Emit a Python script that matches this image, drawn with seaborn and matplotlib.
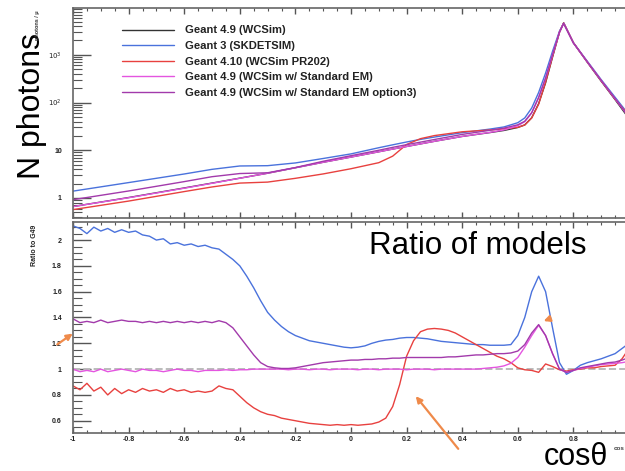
import numpy as np
import pandas as pd
import seaborn as sns
import matplotlib.pyplot as plt
from matplotlib.patches import FancyArrowPatch
from matplotlib.ticker import FixedLocator, FixedFormatter, MultipleLocator, NullFormatter

# ---------------- data ----------------
top_x = [-1.0, -0.8, -0.6, -0.5, -0.4, -0.3, -0.2, -0.1, 0.0, 0.1, 0.15, 0.2, 0.25, 0.3,
         0.4, 0.5, 0.55, 0.6, 0.625, 0.65, 0.675, 0.7, 0.725, 0.75, 0.765, 0.8, 0.85,
         0.9, 0.95, 1.0]
g49 = [0.66, 1.02, 1.62, 2.05, 2.6, 3.3, 4.3, 5.6, 7.2, 9.3, 10.6, 12.0, 13.6, 15.4,
       19.5, 23.5, 26, 30, 34, 48, 95, 260, 900, 3000, 4700, 1800, 700, 280, 115, 46]
g3 = [1.39, 2.10, 3.18, 3.98, 4.68, 4.75, 5.42, 6.72, 8.39, 11.3, 13.0, 14.9, 16.9, 18.9,
      23.4, 27.8, 30.8, 37.8, 47.6, 76.8, 163, 416, 1188, 3150, 4560, 1782, 735, 302, 129, 55]
g410 = [0.57, 0.86, 1.36, 1.70, 2.05, 2.15, 2.58, 3.19, 4.10, 5.49, 7.53, 13.2, 17.5, 20.3,
        24.4, 26.6, 28.1, 30.3, 33.8, 47.5, 92.6, 270, 918, 2985, 4630, 1791, 707, 286, 118, 53]
g49_std = [0.66, 1.01, 1.60, 2.03, 2.59, 3.30, 4.30, 5.60, 7.20, 9.30, 10.6, 12.0, 13.6, 15.4,
           19.5, 23.7, 26.7, 32.7, 39.8, 60.5, 127, 328, 1008, 3000, 4580, 1782, 711, 290, 120, 49]
g49_opt3 = [0.92, 1.40, 2.20, 2.79, 3.25, 3.37, 4.34, 5.88, 7.70, 10.0, 11.5, 13.1, 14.8, 16.8,
            21.5, 26.2, 29.1, 34.2, 40.5, 61.4, 128, 328, 1008, 3000, 4580, 1782, 714, 291, 121, 50]

ratio_x = [-1.0, -0.975, -0.95, -0.925, -0.9, -0.875, -0.85, -0.825, -0.8, -0.775,
           -0.75, -0.725, -0.7, -0.675, -0.65, -0.625, -0.6, -0.575, -0.55, -0.525,
           -0.5, -0.475, -0.45, -0.425, -0.4, -0.375, -0.35, -0.325, -0.3, -0.275,
           -0.25, -0.225, -0.2, -0.175, -0.15, -0.125, -0.1, -0.075, -0.05, -0.025,
           0.0, 0.025, 0.05, 0.075, 0.1, 0.125, 0.15, 0.175, 0.2, 0.225,
           0.25, 0.275, 0.3, 0.325, 0.35, 0.375, 0.4, 0.425, 0.45, 0.475,
           0.5, 0.525, 0.55, 0.575, 0.6, 0.625, 0.65, 0.675, 0.7, 0.725,
           0.75, 0.775, 0.8, 0.825, 0.85, 0.875, 0.9, 0.925, 0.95, 0.975, 1.0]
ratio_g3 = [2.11, 2.09, 2.05, 2.10, 2.07, 2.09, 2.06, 2.08, 2.06, 2.07,
            2.04, 2.03, 2.00, 2.01, 1.97, 1.98, 1.96, 1.97, 1.95, 1.96,
            1.94, 1.93, 1.89, 1.85, 1.80, 1.72, 1.63, 1.53, 1.44, 1.38,
            1.33, 1.29, 1.26, 1.24, 1.22, 1.21, 1.20, 1.19, 1.18, 1.17,
            1.165, 1.17, 1.18, 1.20, 1.215, 1.225, 1.23, 1.24, 1.245, 1.245,
            1.24, 1.235, 1.225, 1.215, 1.21, 1.205, 1.20, 1.195, 1.19, 1.19,
            1.185, 1.185, 1.185, 1.19, 1.26, 1.40, 1.60, 1.72, 1.60, 1.32,
            1.05, 0.96, 0.99, 1.03, 1.05, 1.065, 1.08, 1.10, 1.12, 1.16, 1.20]
ratio_g410 = [0.87, 0.84, 0.89, 0.83, 0.86, 0.80, 0.85, 0.81, 0.84, 0.82,
              0.85, 0.83, 0.84, 0.82, 0.85, 0.83, 0.84, 0.82, 0.83, 0.82,
              0.83, 0.87, 0.85, 0.84, 0.79, 0.74, 0.70, 0.67, 0.65, 0.64,
              0.62, 0.61, 0.60, 0.59, 0.58, 0.575, 0.57, 0.565, 0.57, 0.565,
              0.57, 0.565, 0.57, 0.575, 0.59, 0.62, 0.71, 0.88, 1.10, 1.22,
              1.29, 1.31, 1.315, 1.31, 1.30, 1.28, 1.25, 1.22, 1.19, 1.16,
              1.13, 1.10, 1.08, 1.05, 1.01, 0.995, 0.99, 0.975, 1.04, 1.02,
              0.995, 0.985, 0.995, 1.00, 1.01, 1.01, 1.02, 1.025, 1.03, 1.08, 1.16]
ratio_std = [1.00, 0.98, 0.99, 0.98, 1.00, 0.98, 0.99, 1.00, 0.99, 0.98,
             1.00, 0.99, 0.99, 0.98, 0.99, 1.00, 0.99, 0.99, 0.98, 0.99,
             0.99, 0.99, 0.995, 0.99, 0.995, 0.995, 1.00, 1.00, 1.00, 1.00,
             1.00, 0.995, 1.00, 1.00, 0.995, 1.00, 1.00, 0.995, 1.00, 1.00,
             1.00, 0.995, 1.00, 1.00, 0.995, 1.00, 1.00, 1.00, 0.995, 1.00,
             1.00, 1.00, 0.995, 1.00, 1.00, 1.00, 1.00, 1.00, 1.00, 1.005,
             1.01, 1.015, 1.025, 1.045, 1.09, 1.17, 1.26, 1.34, 1.26, 1.12,
             1.00, 0.975, 0.99, 1.005, 1.015, 1.025, 1.035, 1.04, 1.045, 1.05, 1.06]
ratio_opt3 = [1.39, 1.36, 1.37, 1.36, 1.38, 1.36, 1.37, 1.38, 1.37, 1.37,
              1.36, 1.37, 1.36, 1.37, 1.36, 1.37, 1.36, 1.37, 1.36, 1.37,
              1.36, 1.375, 1.36, 1.32, 1.25, 1.18, 1.11, 1.05, 1.02, 1.01,
              1.005, 1.005, 1.01, 1.02, 1.03, 1.04, 1.05, 1.055, 1.06, 1.065,
              1.07, 1.07, 1.075, 1.075, 1.08, 1.08, 1.085, 1.085, 1.09, 1.09,
              1.09, 1.09, 1.09, 1.09, 1.095, 1.095, 1.10, 1.105, 1.11, 1.11,
              1.115, 1.12, 1.12, 1.125, 1.14, 1.19, 1.28, 1.345, 1.26, 1.12,
              1.00, 0.975, 0.99, 1.01, 1.02, 1.03, 1.04, 1.05, 1.055, 1.07, 1.09]

labels = ["Geant 4.9 (WCSim)", "Geant 3 (SKDETSIM)", "Geant 4.10 (WCSim PR202)",
          "Geant 4.9 (WCSim w/ Standard EM)", "Geant 4.9 (WCSim w/ Standard EM option3)"]
colors = ["#333333", "#4a72dc", "#e8413f", "#e455e0", "#a23aab"]

log_ticks = [1, 10, 100, 1000]
log_labels = ["1", "10", "$10^2$", "$10^3$"]
ratio_ticks = [0.6, 0.8, 1.0, 1.2, 1.4, 1.6, 1.8, 2.0]
ratio_labels = ["0.6", "0.8", "1", "1.2", "1.4", "1.6", "1.8", "2"]
x_ticks = [-1.0, -0.8, -0.6, -0.4, -0.2, 0.0, 0.2, 0.4, 0.6, 0.8]
x_labels = ["-1", "-0.8", "-0.6", "-0.4", "-0.2", "0", "0.2", "0.4", "0.6", "0.8"]

sns.set_theme(style="ticks")
plt.rcParams['font.family'] = ['Liberation Sans', 'DejaVu Sans']

fig = plt.figure(figsize=(6.25, 4.71), dpi=100)
ax1 = fig.add_axes([73 / 625, 1 - 218 / 471, 556 / 625, 210 / 471])
ax2 = fig.add_axes([73 / 625, 1 - 433 / 471, 556 / 625, 211 / 471])

# top panel: photon counts, log scale
top_series = [g49, g3, g410, g49_std, g49_opt3]
for ys, lab, col in zip(top_series, labels, colors):
    sns.lineplot(x=top_x, y=ys, ax=ax1, color=col, lw=1.0, label=lab)
ax1.set_yscale("log")
ax1.set_ylim(0.38, 9600)
ax1.set_xlim(-1, 1)
ax1.yaxis.set_major_locator(FixedLocator(log_ticks))
ax1.yaxis.set_major_formatter(FixedFormatter(log_labels))
ax1.xaxis.set_major_locator(MultipleLocator(0.2))
ax1.xaxis.set_minor_locator(MultipleLocator(0.05))
ax1.xaxis.set_major_formatter(NullFormatter())
ax1.set_xlabel("")
leg = ax1.legend(loc="upper left", bbox_to_anchor=(0.07, 0.965), frameon=False,
                 prop={"size": 8.1, "weight": "bold"}, handlelength=4.6,
                 handletextpad=1.0, labelspacing=0.5)
for t in leg.get_texts():
    t.set_color("#222222")

# ratio panel
ax2.axhline(1.0, color="#bbbbbb", ls="--", lw=1.4, zorder=1)
ratio_series = [ratio_g3, ratio_g410, ratio_std, ratio_opt3]
for ys, col in zip(ratio_series, colors[1:]):
    sns.lineplot(x=ratio_x, y=ys, ax=ax2, color=col, lw=1.0, legend=False)
ax2.set_xlim(-1, 1)
ax2.set_ylim(0.505, 2.14)
ax2.yaxis.set_major_locator(FixedLocator(ratio_ticks))
ax2.yaxis.set_major_formatter(FixedFormatter(ratio_labels))
ax2.yaxis.set_minor_locator(MultipleLocator(0.05))
ax2.xaxis.set_major_locator(FixedLocator(x_ticks))
ax2.xaxis.set_major_formatter(FixedFormatter(x_labels))
ax2.xaxis.set_minor_locator(MultipleLocator(0.05))

for ax in (ax1, ax2):
    for s in ax.spines.values():
        s.set_color("#666666")
        s.set_linewidth(1.2)
    ax.tick_params(which="both", direction="in", top=True, right=False, colors="#555555")
    ax.tick_params(axis="y", which="major", length=13, width=1.0, pad=8, labelsize=5, labelcolor="#222222")
    ax.tick_params(axis="y", which="minor", length=6.5, width=0.8)
    ax.tick_params(axis="x", which="major", length=4, width=1.0, pad=2, labelsize=5, labelcolor="#222222")
    ax.tick_params(axis="x", which="minor", length=2, width=0.8)
    for lbl in ax.get_xticklabels() + ax.get_yticklabels():
        lbl.set_fontweight("bold")
    ax.set_ylabel("")

# texts
fig.text(32 / 625, 1 - 106 / 471, "N photons", rotation=90, fontsize=23,
         ha="center", va="center", color="black")
fig.text(37 / 625, 1 - 25 / 471, "photons / μ", rotation=90, fontsize=4,
         ha="center", va="center", color="#333333", fontweight="bold")
fig.text(35 / 625, 1 - 245 / 471, "Ratio to G49", rotation=90, fontsize=5,
         ha="center", va="center", color="#222222", fontweight="bold")
fig.text(478 / 625, 1 - 246 / 471, "Ratio of models", fontsize=22.5,
         ha="center", va="center", color="black")
fig.text(576 / 625, 1 - 457 / 471, "cosθ", fontsize=22,
         ha="center", va="center", color="black")
fig.text(614 / 625, 1 - 448 / 471, "cos", fontsize=4.5,
         ha="left", va="center", color="#444444", fontweight="bold")

# orange arrows
arrow_kw = dict(arrowstyle="-|>", color="#ef8a4a", lw=1.6, mutation_scale=9)
fig.add_artist(FancyArrowPatch((55, 125), (75, 139), transform=None, **arrow_kw))
fig.add_artist(FancyArrowPatch((460, 20), (414, 77), transform=None, **arrow_kw))
fig.add_artist(FancyArrowPatch((552, 153), (541, 149), transform=None, **arrow_kw))

fig.savefig("out.png", dpi=100)
